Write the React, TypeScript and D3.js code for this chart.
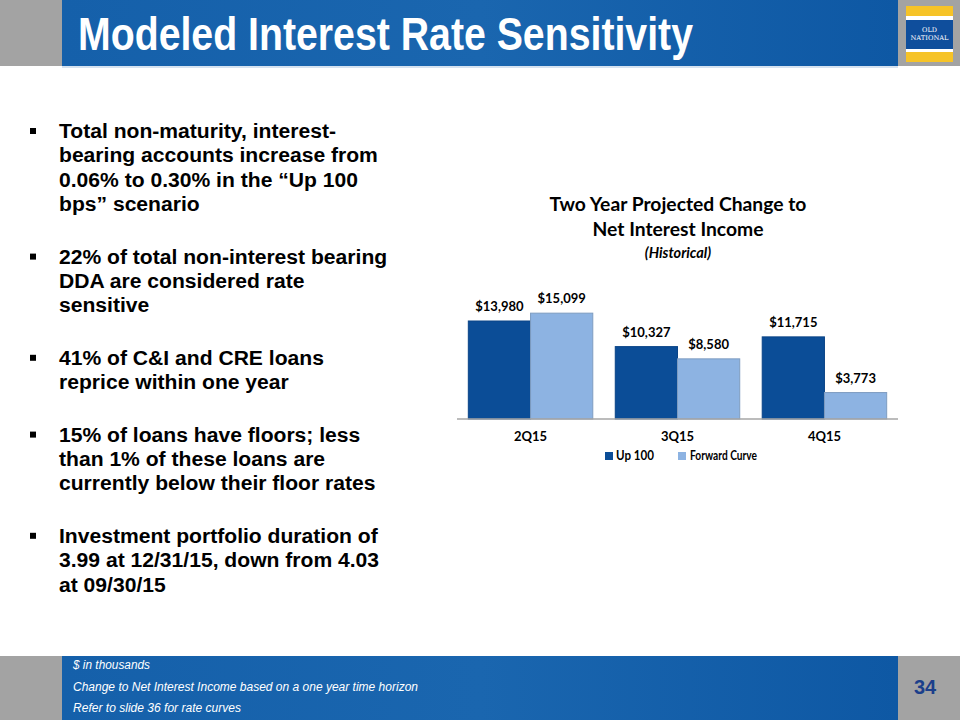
import React from "react";
import * as d3 from "d3";

const categories = ["2Q15", "3Q15", "4Q15"];
const seriesNames = ["Up 100", "Forward Curve"];
const up100 = [13980, 10327, 11715];
const forwardCurve = [15099, 8580, 3773];
const valueLabels = [
  ["$13,980", "$10,327", "$11,715"],
  ["$15,099", "$8,580", "$3,773"],
];
const bullets = [
  ["Total non-maturity, interest-", "bearing accounts increase from", "0.06% to 0.30% in the \u201cUp 100", "bps\u201d scenario"],
  ["22% of total non-interest bearing", "DDA are considered rate", "sensitive"],
  ["41% of C&I and CRE loans", "reprice within one year"],
  ["15% of loans have floors; less", "than 1% of these loans are", "currently below their floor rates"],
  ["Investment portfolio duration of", "3.99 at 12/31/15, down from 4.03", "at 09/30/15"],
];
const footnotes = [
  "$ in thousands",
  "Change to Net Interest Income based on a one year time horizon",
  "Refer to slide 36 for rate curves",
];
const footnoteWidths = [77, 345, 168];

const DARK = "#0B4D97";
const LIGHT = "#8DB3E2";
const GRAY = "#A3A3A3";

export default function App() {
  const x0 = d3
    .scaleBand<string>()
    .domain(categories)
    .range([457, 898])
    .paddingInner(0.153)
    .paddingOuter(0.077);
  const x1 = d3.scaleBand<string>().domain(seriesNames).range([0, x0.bandwidth()]).padding(0);
  const y = d3.scaleLinear().domain([0, 16000]).range([419, 419 - 16000 * 0.00701]);
  const series = [up100, forwardCurve];
  const colors = [DARK, LIGHT];
  const strokes = ["#0A4487", "#7E9CC0"];

  const chartFont = "Lato, 'Open Sans', sans-serif";
  const bodyFont = "'Liberation Sans', Arial, sans-serif";
  const narrowFont = "'Liberation Sans Narrow', 'Arial Narrow', 'Liberation Sans', sans-serif";

  const lineH = 24.4;
  const gap = 28;
  let yy = 138;
  const bulletEls: React.ReactNode[] = [];
  bullets.forEach((lines, bi) => {
    bulletEls.push(<rect key={`b${bi}`} x={30} y={yy - 10} width={6} height={6} fill="#000" />);
    lines.forEach((ln, li) => {
      bulletEls.push(
        <text key={`t${bi}-${li}`} x={59} y={yy + li * lineH} fontFamily={bodyFont} fontWeight="bold" fontSize={21.1} fill="#000">
          {ln}
        </text>
      );
    });
    yy += lines.length * lineH + gap;
  });

  return (
    <svg width={960} height={720} style={{ position: "absolute", left: 0, top: 0 }}>
      <defs>
        <linearGradient id="hdr" x1="0" y1="0" x2="1" y2="0">
          <stop offset="0" stopColor="#1560AA" />
          <stop offset="0.5" stopColor="#1A66AF" />
          <stop offset="1" stopColor="#0E58A4" />
        </linearGradient>
      </defs>
      <rect x={0} y={0} width={960} height={720} fill="#fff" />
      <rect x={0} y={0} width={62} height={66} fill={GRAY} />
      <rect x={62} y={0} width={836} height={66} fill="url(#hdr)" />
      <rect x={898} y={0} width={62} height={66} fill={GRAY} />
      <rect x={62} y={66} width={836} height={2} fill="#D5E2F0" />
      <text x={78} y={50} fontFamily={narrowFont} fontWeight="bold" fontSize={47} fill="#fff" textLength={615} lengthAdjust="spacingAndGlyphs">
        Modeled Interest Rate Sensitivity
      </text>
      <rect x={906} y={6} width={47} height={56} fill="#fff" />
      <rect x={906} y={6} width={47} height={10} fill="#F6C327" />
      <rect x={906} y={20} width={47} height={29} fill="#0F4E9C" />
      <rect x={906} y={52} width={47} height={10} fill="#F6C327" />
      <text x={929.5} y={32} textAnchor="middle" fontFamily="'DejaVu Serif', serif" fontSize={6.5} fill="#fff">OLD</text>
      <text x={929.5} y={39.5} textAnchor="middle" fontFamily="'DejaVu Serif', serif" fontSize={6.5} fill="#fff" textLength={38} lengthAdjust="spacingAndGlyphs">NATIONAL</text>

      {bulletEls}

      <text x={678} y={211} textAnchor="middle" fontFamily={chartFont} fontWeight="bold" fontSize={19.3} fill="#000">
        Two Year Projected Change to
      </text>
      <text x={678} y={236} textAnchor="middle" fontFamily={chartFont} fontWeight="bold" fontSize={19.3} fill="#000">
        Net Interest Income
      </text>
      <text x={678} y={258} textAnchor="middle" fontFamily={chartFont} fontWeight="bold" fontStyle="italic" fontSize={14.5} fill="#000">
        (Historical)
      </text>

      {categories.map((c, ci) =>
        seriesNames.map((s, si) => {
          const v = series[si][ci];
          const bx = (x0(c) ?? 0) + (x1(s) ?? 0);
          const bw = x1.bandwidth();
          return (
            <g key={`${c}-${s}`}>
              <rect x={bx} y={y(v)} width={bw} height={y(0) - y(v)} fill={colors[si]} stroke={strokes[si]} strokeWidth={1} />
              <text x={bx + bw / 2} y={y(v) - 10} textAnchor="middle" fontFamily={chartFont} fontWeight="bold" fontSize={13} fill="#000">
                {valueLabels[si][ci]}
              </text>
            </g>
          );
        })
      )}
      <line x1={457} x2={898} y1={y(0)} y2={y(0)} stroke="#A6A6A6" strokeWidth={1.5} />
      {categories.map((c) => (
        <text key={c} x={(x0(c) ?? 0) + x0.bandwidth() / 2} y={441} textAnchor="middle" fontFamily={chartFont} fontWeight="bold" fontSize={13} fill="#000">
          {c}
        </text>
      ))}
      <rect x={605} y={452} width={8} height={8} fill={DARK} />
      <text x={616} y={460} fontFamily={chartFont} fontWeight="bold" fontSize={13} fill="#000" textLength={38} lengthAdjust="spacingAndGlyphs">{seriesNames[0]}</text>
      <rect x={678} y={452} width={8} height={8} fill={LIGHT} />
      <text x={690} y={460} fontFamily={chartFont} fontWeight="bold" fontSize={13} fill="#000" textLength={67} lengthAdjust="spacingAndGlyphs">{seriesNames[1]}</text>

      <rect x={0} y={656} width={62} height={64} fill={GRAY} />
      <rect x={62} y={656} width={836} height={64} fill="url(#hdr)" />
      <rect x={898} y={656} width={62} height={64} fill={GRAY} />
      {footnotes.map((f, i) => (
        <text key={i} x={73} y={669 + i * 21.5} fontFamily={narrowFont} fontStyle="italic" fontSize={12.5} fill="#fff" textLength={footnoteWidths[i]} lengthAdjust="spacingAndGlyphs">
          {f}
        </text>
      ))}
      <text x={925} y={694} textAnchor="middle" fontFamily={narrowFont} fontWeight="bold" fontSize={20} fill="#1B3F8B">34</text>
    </svg>
  );
}
